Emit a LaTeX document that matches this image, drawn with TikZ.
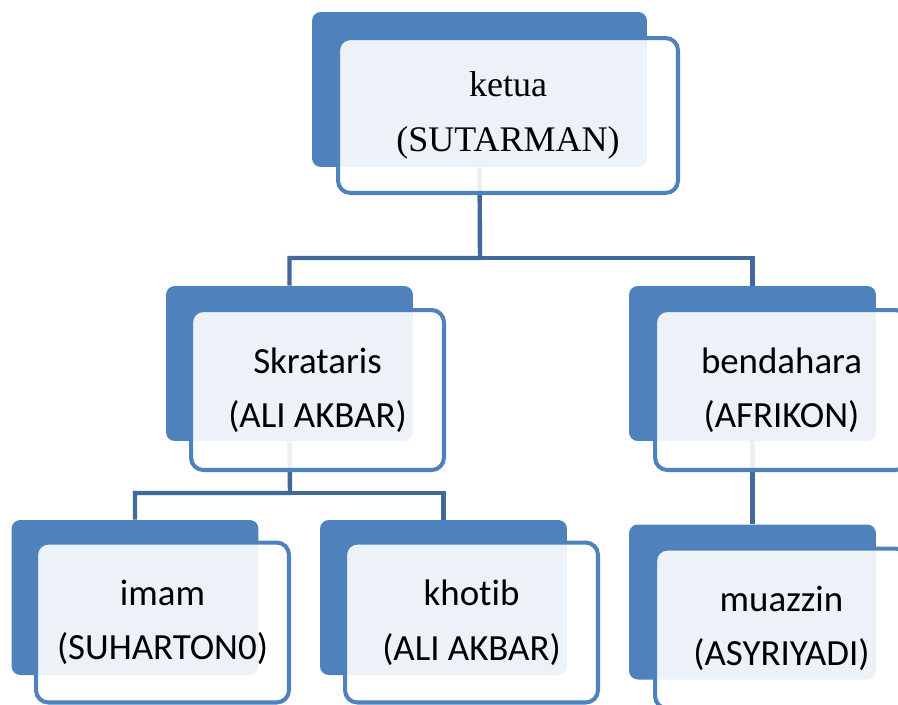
\documentclass[tikz,border=0pt]{standalone}
\usepackage{fontspec}
\setmainfont[Ligatures=NoCommon]{Carlito}
\newfontfamily\titlefont{Liberation Serif}
\usepackage{tikz}
\usetikzlibrary{positioning,backgrounds}
\definecolor{boxblue}{RGB}{79,129,189}
\definecolor{linkblue}{RGB}{65,105,155}

\begin{document}
\begin{tikzpicture}[
    x=0.02cm, y=-0.02cm,
    back/.style={fill=boxblue, rounded corners=5pt, minimum width=4.94cm, minimum height=3.1cm, inner sep=0pt},
    front/.style={draw=boxblue, line width=2.3pt, fill=white, fill opacity=0.9, text opacity=1, rounded corners=7pt,
        minimum width=5.06cm, minimum height=3.2cm, align=center, font=\fontsize{21}{31}\selectfont},
    conn/.style={draw=linkblue, line width=2.5pt}
]
\useasboundingbox (0,0) rectangle (898,704);
\clip (0,0) rectangle (898,704);

% back boxes
\node[back, minimum width=6.7cm] (ketuaB) at (479.5,89.5) {};
\node[back] (skrB) at (289.5,363.5) {};
\node[back] (benB) at (752.5,363.5) {};
\node[back] (imamB) at (135,597.5) {};
\node[back] (khotibB) at (443.5,597.5) {};
\node[back] (muazB) at (752.5,602) {};

% front boxes
\node[front, minimum width=6.8cm, minimum height=3.1cm, font=\titlefont\fontsize{20.5}{31}\selectfont] (ketua) at (508,115.5) {ketua\\(SUTARMAN)};
\node[front] (skr) at (317.5,390) {Skrataris\\(ALI AKBAR)};
\node[front] (ben) at (781.5,390) {bendahara\\(AFRIKON)};
\node[front] (imam) at (162.5,622.5) {imam\\(SUHARTON0)};
\node[front] (khotib) at (471.5,622.5) {khotib\\(ALI AKBAR)};
\node[front] (muaz) at (781.5,628.5) {muazzin\\(ASYRIYADI)};

% links
\coordinate (busA) at (480,258);
\coordinate (busB) at (290,493);
\begin{scope}[on background layer]
\draw[conn] (ketuaB.south) -- (busA) -| (skrB.north);
\draw[conn] (busA) -| (benB.north);
\draw[conn] (skrB.south) -- (busB) -| (imamB.north);
\draw[conn] (busB) -| (khotibB.north);
\draw[conn] (benB.south) -- (muazB.north);
\end{scope}
\end{tikzpicture}
\end{document}
